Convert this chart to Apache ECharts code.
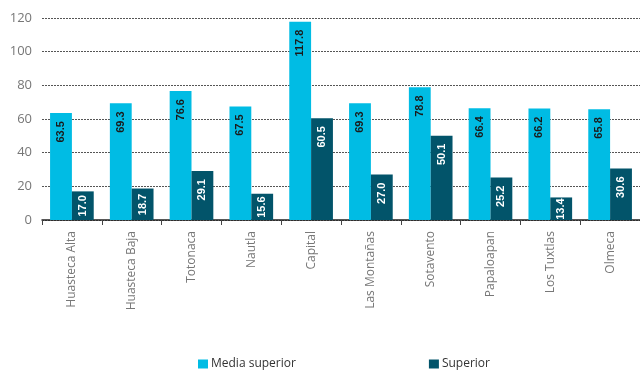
<!DOCTYPE html>
<html>
<head>
<meta charset="utf-8">
<script src="https://cdn.jsdelivr.net/npm/echarts@6/dist/echarts.min.js"></script>
<style>
  html, body { margin: 0; padding: 0; background: #fff; }
  #chart { width: 640px; height: 370px; }
</style>
</head>
<body>
<div id="chart"></div>
<script>
const regiones = ['Huasteca Alta', 'Huasteca Baja', 'Totonaca', 'Nautla', 'Capital',
  'Las Montañas', 'Sotavento', 'Papaloapan', 'Los Tuxtlas', 'Olmeca'];
const mediaSuperior = [63.5, 69.3, 76.6, 67.5, 117.8, 69.3, 78.8, 66.4, 66.2, 65.8];
const superior = [17.0, 18.7, 29.1, 15.6, 60.5, 27.0, 50.1, 25.2, 13.4, 30.6];
const yTicks = [0, 20, 40, 60, 80, 100, 120];

const labelFont = '"Open Sans", Lato, sans-serif';
const plotHeight = 202;   // px between 0 and 120 gridlines
const labelLen = 21;      // approx px length of a value label

// keep the rotated label inside short bars
function withLabel(values, color) {
  return values.map(v => {
    const barPx = v * plotHeight / yTicks[yTicks.length - 1];
    const dist = Math.max(1, Math.min(8, (barPx - labelLen) / 2));
    return {
      value: v,
      label: {
        show: true,
        position: 'insideTop',
        rotate: 90,
        align: 'right',
        verticalAlign: 'middle',
        distance: dist,
        color: color,
        fontFamily: '"Liberation Sans", Arial, sans-serif',
        fontWeight: 'bold',
        fontSize: 11,
        formatter: p => p.value.toFixed(1)
      }
    };
  });
}

const chart = echarts.init(document.getElementById('chart'));
chart.setOption({
  animation: false,
  grid: { left: 42, right: 0, top: 18, bottom: 150 },
  legend: {
    left: 193,
    top: 353,
    itemWidth: 10,
    itemHeight: 9,
    itemGap: 133,
    icon: 'rect',
    textStyle: { color: '#333', fontSize: 12, fontFamily: labelFont, padding: [0, 0, 0, -2] },
    data: ['Media superior', 'Superior']
  },
  xAxis: {
    type: 'category',
    data: regiones,
    axisLine: { lineStyle: { color: '#222', width: 1.5 } },
    axisTick: { show: true, length: 5, lineStyle: { color: '#444' } },
    axisLabel: {
      rotate: 90,
      margin: 11,
      color: '#777',
      fontSize: 12,
      fontFamily: labelFont
    }
  },
  yAxis: {
    type: 'value',
    min: yTicks[0],
    max: yTicks[yTicks.length - 1],
    interval: 20,
    axisLine: { show: false },
    axisTick: { show: false },
    axisLabel: { color: '#777', fontSize: 13, fontFamily: labelFont, margin: 10 },
    splitLine: { lineStyle: { color: '#555', type: [2, 1], width: 1 } }
  },
  series: [
    {
      name: 'Media superior',
      type: 'bar',
      data: withLabel(mediaSuperior, '#1a1a1a'),
      barGap: '0%',
      barCategoryGap: '27%',
      itemStyle: { color: '#00BCE4' }
    },
    {
      name: 'Superior',
      type: 'bar',
      data: withLabel(superior, '#ffffff'),
      itemStyle: { color: '#02546A' }
    }
  ]
});
</script>
</body>
</html>
